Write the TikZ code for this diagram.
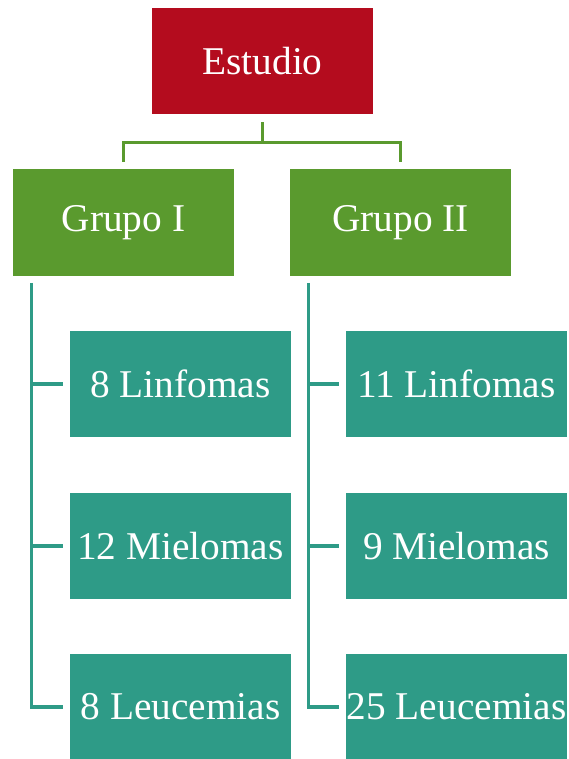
\documentclass[tikz,border=0pt]{standalone}
\usepackage{fontspec}
\setmainfont{Liberation Serif}
\usepackage{tikz}
\usetikzlibrary{positioning}
\definecolor{rojo}{HTML}{B40C1E}
\definecolor{verde}{HTML}{5A9A2E}
\definecolor{azul}{HTML}{2E9B87}
\tikzset{
  caja/.style={draw=none, text=white, inner sep=0pt, minimum width=165.75pt, minimum height=79.5pt,
    font=\fontsize{29.5}{35}\selectfont},
  ramaverde/.style={draw=verde, line width=2.4pt},
  ramaazul/.style={draw=azul, line width=2.4pt}
}
\begin{document}
\begin{tikzpicture}[x=0.75pt, y=-0.75pt]
  \useasboundingbox (0,0) rectangle (568,759);

  \node[caja, fill=rojo] (est) at (262.5,61) {Estudio};
  \node[caja, fill=verde] (g1) at (123.5,222.5) {Grupo I};
  \node[caja, fill=verde] (g2) at (400.5,222.5) {Grupo II};

  \node[caja, fill=azul] (a1) at (180.5,384) {8 Linfomas};
  \node[caja, fill=azul] (a2) at (180.5,546) {12 Mielomas};
  \node[caja, fill=azul] (a3) at (180.5,707) {8 Leucemias};
  \node[caja, fill=azul] (b1) at (456.5,384) {11 Linfomas};
  \node[caja, fill=azul] (b2) at (456.5,546) {9 Mielomas};
  \node[caja, fill=azul] (b3) at (456.5,707) {25 Leucemias};

  %% Estudio -> Grupos
  \draw[ramaverde] ([yshift=-6pt]est.south) -- ++(0,-15pt) -| ([yshift=5.25pt]g1.north);
  \draw[ramaverde] ([yshift=-6pt]est.south) -- ++(0,-15pt) -| ([yshift=5.25pt]g2.north);

  %% Grupo I -> a1..a3
  \coordinate (tl) at ([shift={(14.25pt,-5.25pt)}]g1.south west);
  \draw[ramaazul] (tl) |- ([xshift=-5.25pt]a3.west);
  \foreach \n in {a1,a2}
    \draw[ramaazul] (tl |- \n.west) -- ([xshift=-5.25pt]\n.west);

  %% Grupo II -> b1..b3
  \coordinate (tr) at ([shift={(14.25pt,-5.25pt)}]g2.south west);
  \draw[ramaazul] (tr) |- ([xshift=-5.25pt]b3.west);
  \foreach \n in {b1,b2}
    \draw[ramaazul] (tr |- \n.west) -- ([xshift=-5.25pt]\n.west);
\end{tikzpicture}
\end{document}
